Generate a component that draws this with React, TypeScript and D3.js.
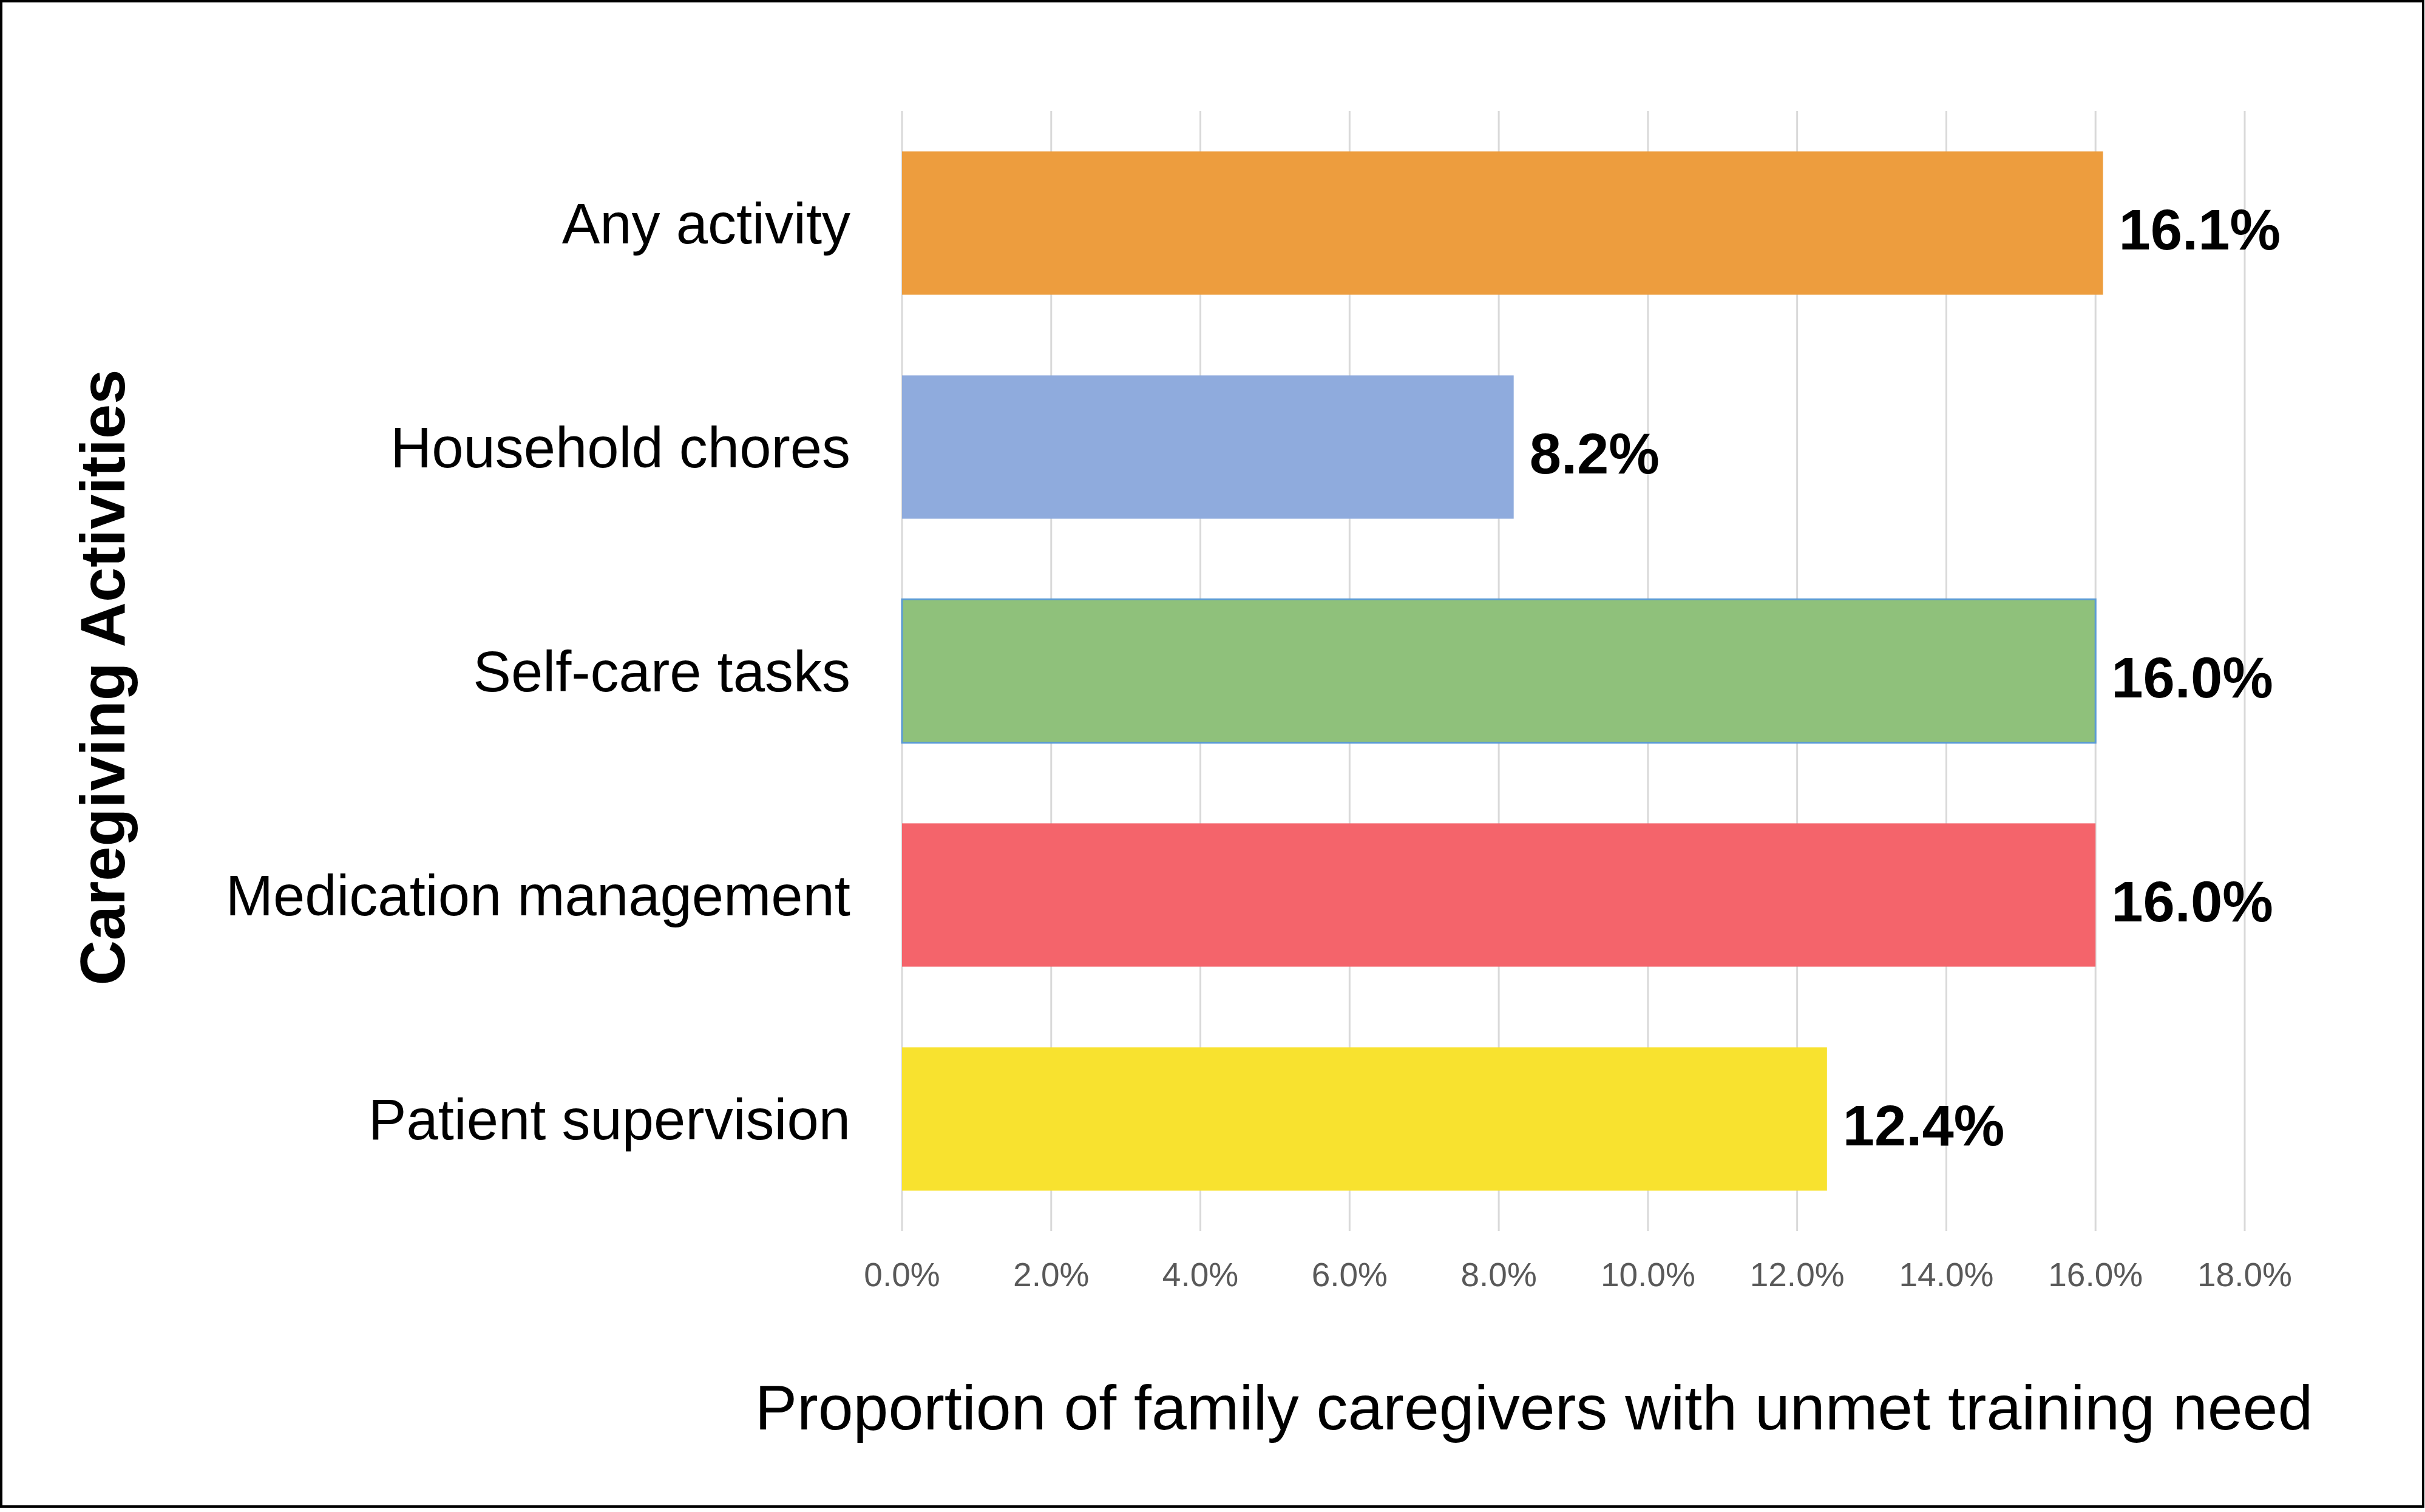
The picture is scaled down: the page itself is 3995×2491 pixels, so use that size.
import React from "react";
import * as d3 from "d3";

const categories = [
  "Any activity",
  "Household chores",
  "Self-care tasks",
  "Medication management",
  "Patient supervision",
];
const values = [0.161, 0.082, 0.16, 0.16, 0.124];
const valueLabels = ["16.1%", "8.2%", "16.0%", "16.0%", "12.4%"];
const barColors = ["#ED9D3E", "#8FABDD", "#8FC17B", "#F4646B", "#F8E22F"];
const tickValues = [0, 0.02, 0.04, 0.06, 0.08, 0.1, 0.12, 0.14, 0.16, 0.18];
const xTitle = "Proportion of family caregivers with unmet training need";
const yTitle = "Caregiving Activities";

const W = 3995;
const H = 2491;
const FONT = "'Liberation Sans', Arial, Helvetica, sans-serif";

export default function App() {
  const x = d3.scaleLinear().domain([0, 0.18]).range([1486, 3698]);
  const y = d3
    .scaleBand<string>()
    .domain(categories)
    .range([183, 2028])
    .paddingInner(0.36)
    .paddingOuter(0.18);
  const fmt = d3.format(".1%");
  const [y0, y1] = y.range();

  return (
    <svg
      width={W}
      height={H}
      style={{ position: "absolute", left: 0, top: 0, background: "#fff" }}
      fontFamily={FONT}
    >
      <rect x={0} y={0} width={W} height={H} fill="#fff" />
      {/* gridlines */}
      {tickValues.map((t) => (
        <line
          key={"g" + t}
          x1={x(t)}
          x2={x(t)}
          y1={y0}
          y2={y1}
          stroke="#D9D9D9"
          strokeWidth={3}
        />
      ))}
      {/* bars */}
      {categories.map((c, i) => (
        <rect
          key={c}
          x={x(0)}
          y={y(c)}
          width={x(values[i]) - x(0)}
          height={y.bandwidth()}
          fill={barColors[i]}
          stroke={i === 2 ? "#5B9BD5" : "none"}
          strokeWidth={i === 2 ? 3 : 0}
        />
      ))}
      {/* value labels */}
      {categories.map((c, i) => (
        <text
          key={"v" + c}
          x={x(values[i]) + 26}
          y={(y(c) as number) + y.bandwidth() / 2}
          dy="0.46em"
          fontSize={94}
          fontWeight="bold"
          fill="#000"
        >
          {valueLabels[i]}
        </text>
      ))}
      {/* category labels */}
      {categories.map((c) => (
        <text
          key={"c" + c}
          x={1401}
          y={(y(c) as number) + y.bandwidth() / 2}
          dy="0.36em"
          fontSize={94}
          textAnchor="end"
          fill="#000"
        >
          {c}
        </text>
      ))}
      {/* tick labels */}
      {tickValues.map((t) => (
        <text
          key={"t" + t}
          x={x(t)}
          y={2100}
          dy="0.35em"
          fontSize={55}
          textAnchor="middle"
          fill="#595959"
        >
          {fmt(t)}
        </text>
      ))}
      {/* axis titles */}
      <text x={2527} y={2355} fontSize={104} textAnchor="middle" fill="#000">
        {xTitle}
      </text>
      <text
        transform="translate(205,1116) rotate(-90)"
        fontSize={103}
        fontWeight="bold"
        textAnchor="middle"
        fill="#000"
      >
        {yTitle}
      </text>
      {/* frame */}
      <rect
        x={2}
        y={2}
        width={3990}
        height={2480}
        fill="none"
        stroke="#000"
        strokeWidth={4}
      />
    </svg>
  );
}
